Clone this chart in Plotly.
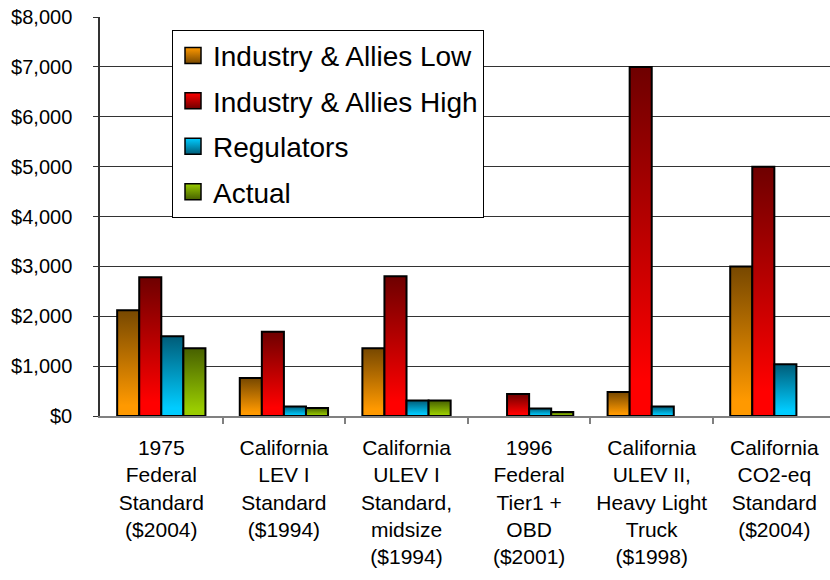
import plotly.graph_objects as go

# Cost estimates of emission standards, per vehicle
categories = [
    "1975<br>Federal<br>Standard<br>($2004)",
    "California<br>LEV I<br>Standard<br>($1994)",
    "California<br>ULEV I<br>Standard,<br>midsize<br>($1994)",
    "1996<br>Federal<br>Tier1 +<br>OBD<br>($2001)",
    "California<br>ULEV II,<br>Heavy Light<br>Truck<br>($1998)",
    "California<br>CO2-eq<br>Standard<br>($2004)",
]
industry_low = [2120, 760, 1360, None, 480, 3000]
industry_high = [2780, 1690, 2800, 440, 7000, 5000]
regulators = [1600, 190, 310, 150, 190, 1040]
actual = [1360, 160, 310, 80, None, None]

series = [
    ("Industry & Allies Low", industry_low, "#FF9900", "#774800"),
    ("Industry & Allies High", industry_high, "#FF0000", "#6E0000"),
    ("Regulators", regulators, "#00CCFF", "#005C78"),
    ("Actual", actual, "#99CC00", "#476000"),
]

FONT = "Liberation Sans, Arial, sans-serif"
BARGAP = 0.28
bar_w = (1 - BARGAP) / len(series)

fig = go.Figure()

for j, (name, values, bright, dark) in enumerate(series):
    # legend entry with a vertical gradient swatch
    fig.add_trace(go.Scatter(
        x=[None], y=[None], mode="markers", name=name,
        legendgroup=name, showlegend=True,
        marker=dict(symbol="square", size=16, color=bright,
                    gradient=dict(type="vertical", color=dark),
                    line=dict(color="black", width=1.5)),
    ))
    # one filled outline per bar so each bar gets its own gradient
    for i, v in enumerate(values):
        if v is None:
            continue
        x0 = i - (1 - BARGAP) / 2 + j * bar_w
        x1 = x0 + bar_w
        fig.add_trace(go.Scatter(
            x=[x0, x0, x1, x1, x0], y=[0, v, v, 0, 0],
            mode="lines", fill="toself", legendgroup=name, showlegend=False,
            line=dict(color="black", width=2),
            fillgradient=dict(type="vertical", start=0, stop=v,
                              colorscale=[[0, bright], [0.1, bright], [1, dark]]),
            hoverinfo="skip",
        ))

fig.update_layout(
    width=830, height=580,
    margin=dict(l=100, r=0, t=17, b=164),
    paper_bgcolor="white", plot_bgcolor="white",
    font=dict(family=FONT, color="black"),
    showlegend=True,
    legend=dict(
        x=(172 - 100) / 730, y=0.968, xanchor="left", yanchor="top",
        bgcolor="white", bordercolor="black", borderwidth=1,
        font=dict(size=28, family=FONT, color="black"),
        traceorder="grouped", tracegroupgap=6,
    ),
    hovermode=False,
)

fig.update_xaxes(
    range=[-0.5, 5.454],
    tickmode="array", tickvals=list(range(len(categories))), ticktext=categories,
    ticks="", tickfont=dict(size=21, family=FONT, color="black"),
    ticklabelstandoff=12,
    showgrid=False, zeroline=False,
    showline=True, linecolor="#808080", linewidth=1.5,
    minor=dict(tickvals=[k + 0.5 for k in range(len(categories) - 1)],
               ticks="outside", ticklen=6, tickcolor="#808080", tickwidth=1.5,
               showgrid=False),
)

fig.update_yaxes(
    range=[0, 8000], dtick=1000, tickprefix="$", tickformat=",",
    tickfont=dict(size=20, family=FONT, color="black"),
    ticks="outside", ticklen=5, tickcolor="#333333", ticklabelstandoff=17,
    showgrid=True, gridcolor="#333333", gridwidth=1,
    zeroline=False,
    showline=True, linecolor="#333333", linewidth=1.5,
)

fig.write_html("out.html")
